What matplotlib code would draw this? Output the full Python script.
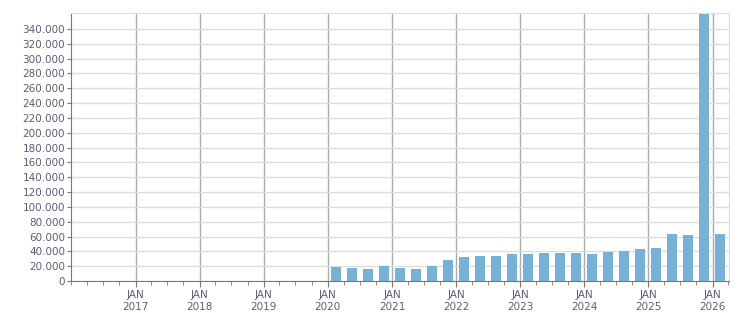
import numpy as np
import pandas as pd
import matplotlib
matplotlib.use('Agg')
import matplotlib.pyplot as plt
import matplotlib.dates as mdates
from matplotlib.ticker import FuncFormatter

# quarterly values, Q1 2020 .. Q1 2026
quarters = ['2020Q1', '2020Q2', '2020Q3', '2020Q4',
            '2021Q1', '2021Q2', '2021Q3', '2021Q4',
            '2022Q1', '2022Q2', '2022Q3', '2022Q4',
            '2023Q1', '2023Q2', '2023Q3', '2023Q4',
            '2024Q1', '2024Q2', '2024Q3', '2024Q4',
            '2025Q1', '2025Q2', '2025Q3', '2025Q4',
            '2026Q1']
values = [19300, 17900, 16600, 20600,
          17900, 16600, 20600, 28700,
          32700, 34100, 34100, 36800,
          36800, 38100, 38100, 38100,
          36800, 39500, 40800, 43500,
          44800, 63700, 62300, 360000,
          63700]

years = list(range(2017, 2027))

text_col = '#5c5c78'
bar_col = '#77b1d5'

q_start = pd.PeriodIndex(quarters, freq='Q').start_time
centers = q_start + pd.Timedelta(days=45)

fig = plt.figure(figsize=(7.51, 3.13), dpi=100)
ax = fig.add_axes([71.3 / 751, 32 / 313, (728.7 - 71.3) / 751, (281 - 13.3) / 313])

ax.bar(centers, values, width=57, color=bar_col, zorder=3)

ax.set_xlim(pd.Timestamp('2016-01-01'), pd.Timestamp('2026-04-03'))
ax.set_ylim(0, 361000)

ax.set_yticks(np.arange(0, 340001, 20000))
ax.yaxis.set_major_formatter(FuncFormatter(lambda v, p: f'{int(v):,}'.replace(',', '.')))

ax.set_xticks([pd.Timestamp(f'{y}-01-01') for y in years])
ax.set_xticklabels([f'JAN\n{y}' for y in years])
ax.xaxis.set_minor_locator(mdates.MonthLocator(bymonth=[1, 4, 7, 10]))

ax.grid(axis='y', color='#dddddd', linewidth=1, zorder=0)
ax.grid(axis='x', which='major', color='#aaaaaa', linewidth=1, zorder=0)

ax.tick_params(axis='both', which='major', labelsize=7.5, labelcolor=text_col,
               color='#777777', length=3)
ax.tick_params(axis='y', which='major', pad=1.5)
ax.tick_params(axis='x', which='minor', color='#777777', length=3)
ax.tick_params(axis='x', which='major', pad=2.5, length=4)

for s in ['left', 'bottom']:
    ax.spines[s].set_color('#777777')
for s in ['top', 'right']:
    ax.spines[s].set_color('#dddddd')

fig.savefig('out.png', dpi=100)
